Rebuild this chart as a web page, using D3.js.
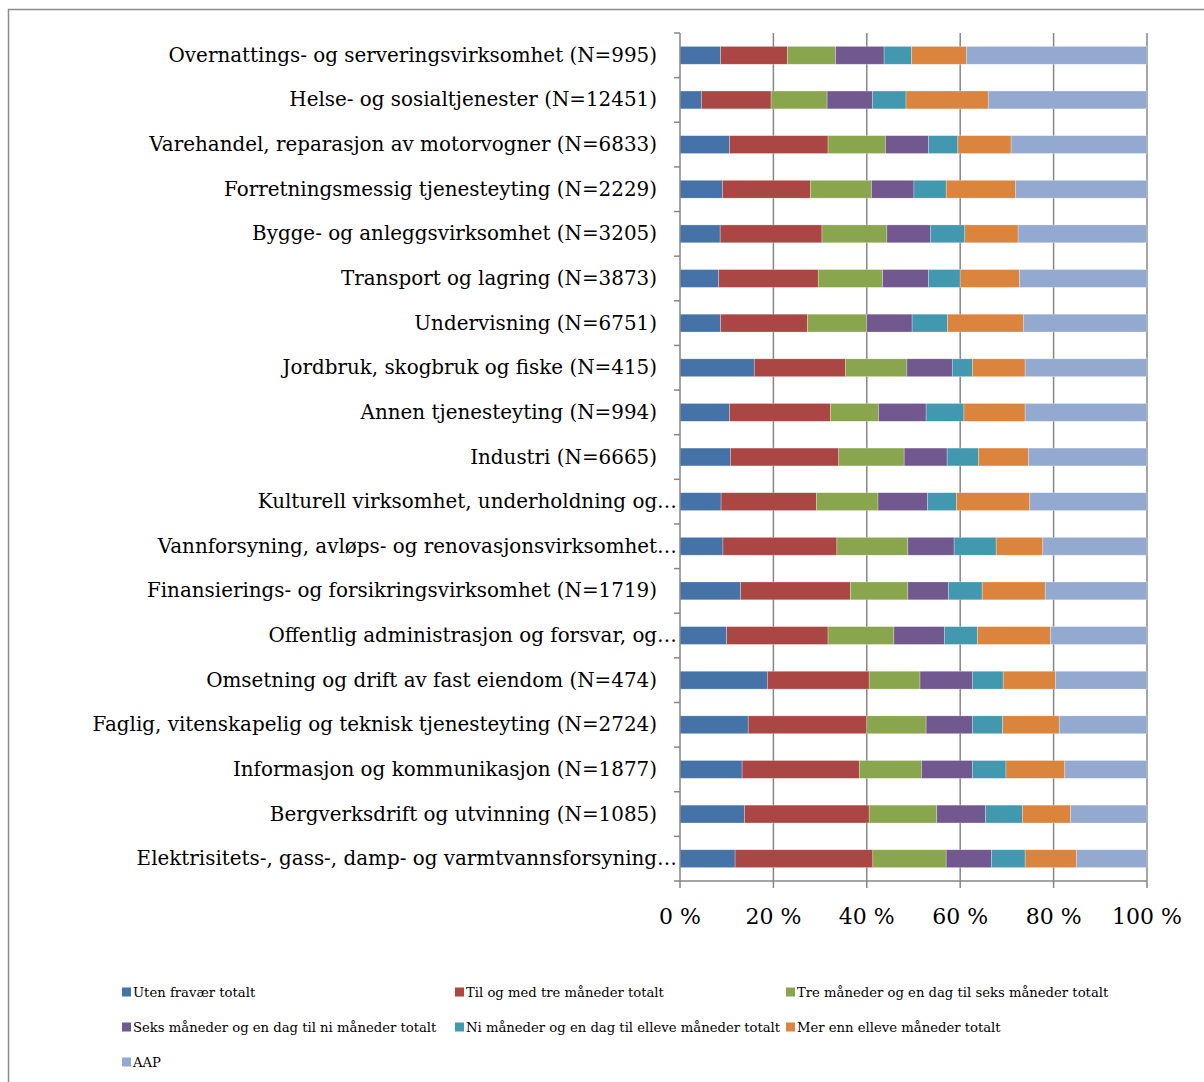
<!DOCTYPE html>
<html><head><meta charset="utf-8">
<script src="https://cdn.jsdelivr.net/npm/d3@7"></script>
<style>html,body{margin:0;padding:0;background:#fff;}</style>
</head><body>
<svg id="chart" width="1204" height="1082"></svg>
<script>
const categories = [
  "Overnattings- og serveringsvirksomhet (N=995)",
  "Helse- og sosialtjenester (N=12451)",
  "Varehandel, reparasjon av motorvogner (N=6833)",
  "Forretningsmessig tjenesteyting (N=2229)",
  "Bygge- og anleggsvirksomhet (N=3205)",
  "Transport og lagring (N=3873)",
  "Undervisning (N=6751)",
  "Jordbruk, skogbruk og fiske (N=415)",
  "Annen tjenesteyting (N=994)",
  "Industri (N=6665)",
  "Kulturell virksomhet, underholdning og…",
  "Vannforsyning, avløps- og renovasjonsvirksomhet…",
  "Finansierings- og forsikringsvirksomhet (N=1719)",
  "Offentlig administrasjon og forsvar, og…",
  "Omsetning og drift av fast eiendom (N=474)",
  "Faglig, vitenskapelig og teknisk tjenesteyting (N=2724)",
  "Informasjon og kommunikasjon (N=1877)",
  "Bergverksdrift og utvinning (N=1085)",
  "Elektrisitets-, gass-, damp- og varmtvannsforsyning…"
];
const seriesNames = [
  "Uten fravær totalt",
  "Til og med tre måneder totalt",
  "Tre måneder og en dag til seks måneder totalt",
  "Seks måneder og en dag til ni måneder totalt",
  "Ni måneder og en dag til elleve måneder totalt",
  "Mer enn elleve måneder totalt",
  "AAP"
];
const utenFravaer  = [8.7,4.6,10.6,9.1,8.6,8.3,8.7,15.9,10.6,10.8,8.8,9.2,13.0,10.0,18.7,14.6,13.3,13.8,11.8];
const tilTreMnd    = [14.3,14.9,21.1,18.8,21.8,21.3,18.6,19.5,21.6,23.2,20.4,24.4,23.5,21.7,21.8,25.4,25.1,26.7,29.5];
const treTilSeks   = [10.3,12.0,12.3,13.1,13.9,13.8,12.7,13.2,10.3,14.0,13.2,15.2,12.3,14.1,10.9,12.7,13.3,14.5,15.7];
const seksTilNi    = [10.4,9.7,9.2,9.1,9.4,9.8,9.7,9.7,10.2,9.2,10.6,9.9,8.7,10.8,11.2,9.9,10.9,10.4,9.7];
const niTilElleve  = [5.9,7.2,6.3,6.9,7.3,6.8,7.6,4.3,8.1,6.7,6.2,9.0,7.2,7.1,6.6,6.5,7.2,7.9,7.2];
const merEnnElleve = [11.7,17.6,11.4,14.8,11.4,12.7,16.2,11.3,13.1,10.7,15.7,10.0,13.5,15.6,11.2,12.1,12.6,10.3,11.0];
const aap          = [38.7,34.0,29.1,28.2,27.6,27.3,26.5,26.1,26.1,25.4,25.1,22.3,21.8,20.7,19.6,18.8,17.6,16.4,15.1];
const tickValues = [0, 0.2, 0.4, 0.6, 0.8, 1.0];
const tickLabels = ["0 %","20 %","40 %","60 %","80 %","100 %"];

const colors = ["#4572A7","#AA4643","#89A54E","#71588F","#4198AF","#DB843D","#93A9CF"];
const seriesValues = [utenFravaer,tilTreMnd,treTilSeks,seksTilNi,niTilElleve,merEnnElleve,aap];

const rows = categories.map((c,i)=>{
  const o = {cat:c};
  seriesNames.forEach((s,j)=>{ o[s] = seriesValues[j][i]; });
  return o;
});

const svg = d3.select("#chart");
svg.append("rect").attr("width",1204).attr("height",1082).attr("fill","#fff");
svg.append("rect").attr("x",8.5).attr("y",9.5).attr("width",1220).attr("height",1100)
  .attr("fill","none").attr("stroke","#8c8c8c").attr("stroke-width",1.5);

const x = d3.scaleLinear().domain([0,1]).range([680,1147]);
const y = d3.scaleBand().domain(categories).range([33,881]).paddingInner(0.6).paddingOuter(0.3);

// gridlines
svg.append("g").selectAll("line").data(tickValues.slice(1)).join("line")
  .attr("x1",d=>x(d)).attr("x2",d=>x(d)).attr("y1",33).attr("y2",881)
  .attr("stroke","#868686").attr("stroke-width",1.5);

const stack = d3.stack().keys(seriesNames).offset(d3.stackOffsetExpand);
const stacked = stack(rows);

svg.append("g").selectAll("g").data(stacked).join("g")
  .attr("fill",(d,i)=>colors[i])
  .selectAll("rect").data(d=>d).join("rect")
  .attr("x",d=>x(d[0])).attr("width",d=>x(d[1])-x(d[0]))
  .attr("y",d=>y(d.data.cat)).attr("height",y.bandwidth())
  .attr("stroke","rgba(255,255,255,0.45)").attr("stroke-width",0.6);

// axes
const axisColor = "#868686";
svg.append("line").attr("x1",680).attr("x2",680).attr("y1",33).attr("y2",881)
  .attr("stroke",axisColor).attr("stroke-width",1.5);
svg.append("line").attr("x1",680).attr("x2",1147).attr("y1",881).attr("y2",881)
  .attr("stroke",axisColor).attr("stroke-width",1.5);
svg.append("g").selectAll("line").data(tickValues).join("line")
  .attr("x1",d=>x(d)).attr("x2",d=>x(d)).attr("y1",881).attr("y2",888)
  .attr("stroke",axisColor).attr("stroke-width",1.5);
const boundaries = d3.range(categories.length+1).map(i=>33 + i*y.step());
svg.append("g").selectAll("line").data(boundaries).join("line")
  .attr("x1",674).attr("x2",680).attr("y1",d=>d).attr("y2",d=>d)
  .attr("stroke",axisColor).attr("stroke-width",1.5);

svg.append("g").selectAll("text").data(tickValues).join("text")
  .attr("x",d=>x(d)).attr("y",916).attr("text-anchor","middle")
  .attr("dominant-baseline","central")
  .attr("font-family","DejaVu Serif").attr("font-size",22).attr("fill","#000")
  .text((d,i)=>tickLabels[i]);

// category labels
svg.append("g").selectAll("text").data(categories).join("text")
  .attr("x",d=>d.endsWith("…")?677:657)
  .attr("y",d=>y(d)+y.bandwidth()/2)
  .attr("text-anchor","end").attr("dominant-baseline","central")
  .attr("font-family","DejaVu Serif").attr("font-size",19.9).attr("fill","#000")
  .text(d=>d);

// legend
const colX = [122,455,786];
const rowY = [992,1027,1062];
const leg = svg.append("g").selectAll("g").data(seriesNames).join("g")
  .attr("transform",(d,i)=>`translate(${colX[i%3]},${rowY[Math.floor(i/3)]})`);
leg.append("rect").attr("x",0).attr("y",-4.5).attr("width",9).attr("height",9)
  .attr("fill",(d,i)=>colors[i]);
leg.append("text").attr("x",11).attr("y",0).attr("dominant-baseline","central")
  .attr("font-family","DejaVu Serif").attr("font-size",13.2).attr("fill","#000")
  .text(d=>d);
</script>
</body></html>
